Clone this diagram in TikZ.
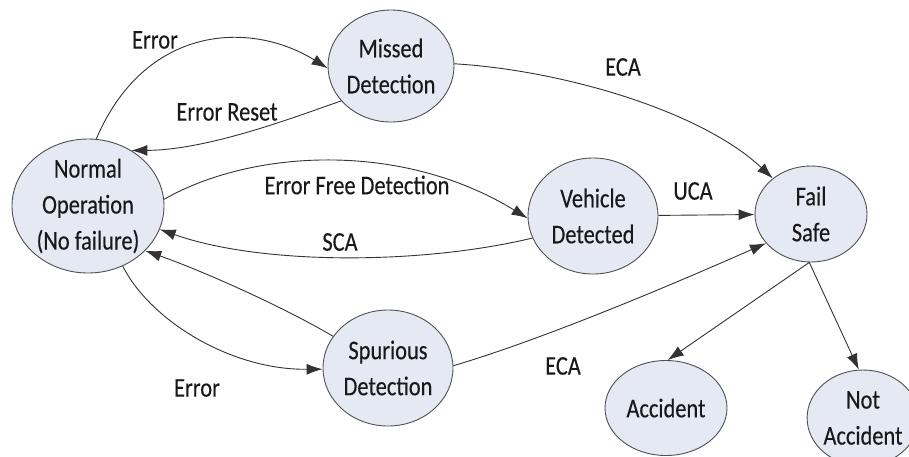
\documentclass[tikz,border=0pt]{standalone}
\usepackage{fontspec}
\setmainfont{Carlito}[FakeStretch=0.83,FakeBold=0.25]
\usetikzlibrary{arrows.meta,shapes.geometric}

\definecolor{statefill}{HTML}{E4E9F4}
\definecolor{stateline}{HTML}{505050}
\definecolor{edgeline}{HTML}{333333}

\tikzset{
  state/.style={ellipse, draw=stateline, line width=0.9pt, fill=statefill,
    inner sep=0pt, align=center, font=\fontsize{27}{36}\selectfont,
    text=black!90},
  arr/.style={draw=edgeline, line width=0.9pt,
    -{Latex[length=16pt,width=11pt]}},
  lbl/.style={font=\fontsize{27}{30}\selectfont, text=black!90, inner sep=0pt}
}

\begin{document}
\begin{tikzpicture}[x=1pt,y=-1pt]
  \useasboundingbox (0,0) rectangle (909,456);

  % states
  \node[state, minimum width=152pt, minimum height=134pt] (norm) at (88,206)
    {Normal\\Operation\\(No failure)};
  \node[state, minimum width=126pt, minimum height=112pt] (miss) at (391,66)
    {Missed\\Detection};
  \node[state, minimum width=130pt, minimum height=116pt] (veh) at (593,216)
    {Vehicle\\Detected};
  \node[state, minimum width=112pt, minimum height=96pt] (fs) at (811,214)
    {Fail\\Safe};
  \node[state, minimum width=130pt, minimum height=116pt] (spur) at (388,368)
    {Spurious\\Detection};
  \node[state, minimum width=122pt, minimum height=95pt] (acc) at (666,408)
    {Accident};
  \node[state, minimum width=100pt, minimum height=96pt] (nacc) at (863,418)
    {Not\\Accident};

  % transitions
  \draw[arr] (norm.83) .. controls (145,25) and (250,20) .. (miss.182);
  \draw[arr] (miss.215) .. controls (300,115) and (210,150) .. (norm.52);
  \draw[arr] (norm.5) .. controls (250,150) and (400,140) .. (veh.182);
  \draw[arr] (veh.200) .. controls (420,265) and (260,265) .. (norm.-18);
  \draw[arr] (spur.150) .. controls (280,305) and (200,270) .. (norm.-38);
  \draw[arr] (norm.-60) .. controls (150,320) and (230,370) .. (spur.181);
  \draw[arr] (miss.2) .. controls (560,70) and (700,110) .. (fs.137);
  \draw[arr] (veh) -- (fs);
  \draw[arr] (spur.2) .. controls (540,340) and (660,290) .. (fs.213);
  \draw[arr] (fs.-92) -- (acc.88);
  \draw[arr] (fs.-92) -- (nacc.95);

  % transition labels
  \node[lbl] (l1) at (155,40) {Error};
  \node[lbl] (l2) at (227,112) {Error Reset};
  \node[lbl] (l3) at (357,185) {Error Free Detection};
  \node[lbl] (l4) at (340,242) {SCA};
  \node[lbl] (l5) at (197,388) {Error};
  \node[lbl] (l6) at (623,67) {ECA};
  \node[lbl] (l7) at (693,191) {UCA};
  \node[lbl] (l8) at (563,366) {ECA};
\end{tikzpicture}
\end{document}
